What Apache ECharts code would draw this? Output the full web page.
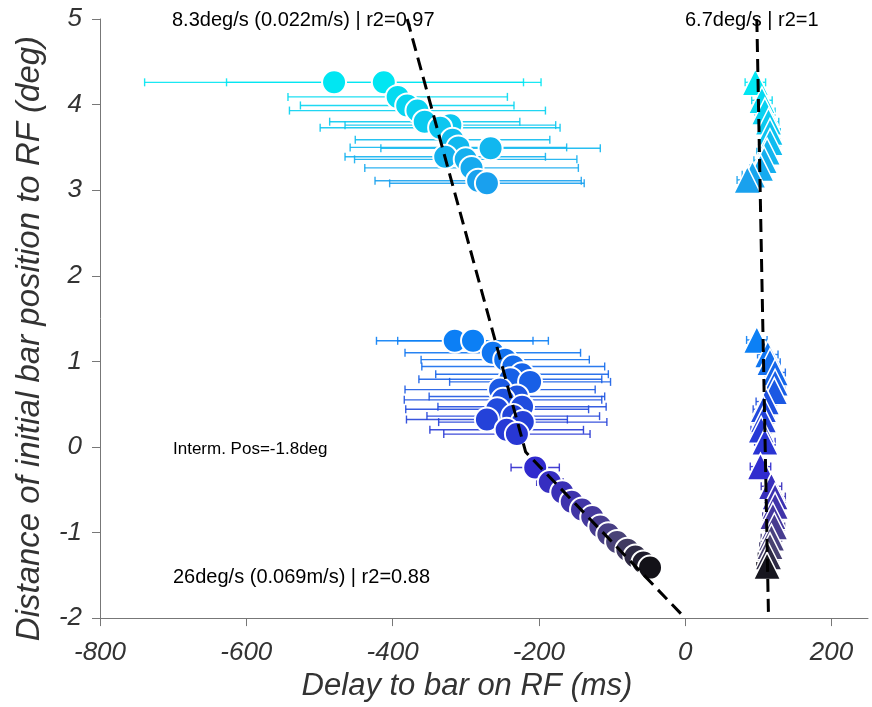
<!DOCTYPE html>
<html>
<head>
<meta charset="utf-8">
<script src="https://cdn.jsdelivr.net/npm/echarts@6/dist/echarts.min.js"></script>
<style>
  html, body { margin: 0; padding: 0; background: #fff; }
  #chart { width: 872px; height: 707px; }
</style>
</head>
<body>
<div id="chart"></div>
<script>
// circles: delay (ms), initial bar position (deg), error half-width (ms)
const circleDelay = [
  -480, -412, -393, -380, -366, -356, -321, -335, -318, -310, -266, -328, -300, -292, -283, -271,
  -315, -290, -263, -246, -235, -223, -239, -212, -253, -230, -249, -223, -257, -235, -271, -222, -244, -230,
  -205, -185, -168, -155, -141, -127, -116, -105, -93, -79, -68, -57, -48
];
const circlePos = [
  4.26, 4.26, 4.09, 3.99, 3.93, 3.80, 3.76, 3.73, 3.59, 3.50, 3.49, 3.39, 3.36, 3.26, 3.11, 3.08,
  1.24, 1.24, 1.10, 1.02, 0.94, 0.85, 0.79, 0.76, 0.67, 0.59, 0.55, 0.47, 0.44, 0.36, 0.32, 0.29, 0.20, 0.15,
  -0.24, -0.41, -0.53, -0.64, -0.73, -0.82, -0.93, -1.02, -1.11, -1.20, -1.28, -1.35, -1.41
];
const circleErr = [
  259, 215, 150, 146, 175, 130, 144, 164, 133, 148, 150, 137, 152, 146, 141, 133,
  107, 103, 120, 115, 125, 118, 125, 110, 130, 120, 135, 115, 125, 118, 110, 115, 105, 100,
  33, 18, 15, 14, 12, 12, 11, 12, 10, 10, 10, 9, 9
];

// triangles
const triDelay = [
  96, 105, 109, 114, 116, 116, 112, 108, 103, 92, 85,
  98, 113, 116, 123, 123, 122, 111, 107, 107, 104, 109,
  103, 118, 123, 123, 120, 122, 118, 116, 114, 112
];
const triPos = [
  4.26, 4.05, 3.92, 3.80, 3.68, 3.56, 3.45, 3.35, 3.26, 3.18, 3.12,
  1.25, 1.08, 0.99, 0.87, 0.75, 0.65, 0.53, 0.44, 0.32, 0.20, 0.06,
  -0.23, -0.46, -0.58, -0.69, -0.81, -0.93, -1.06, -1.16, -1.28, -1.39
];
const triErr = [
  14, 14, 14, 14, 14, 14, 14, 14, 14, 14, 14,
  14, 14, 14, 14, 14, 14, 14, 14, 14, 14, 14,
  14, 14, 14, 14, 14, 14, 14, 14, 14, 14
];

// fitted lines
const fitCircleX = [-380, -218, 0];
const fitCircleY = [5, -0.06, -2];
const fitTriX = [98, 114];
const fitTriY = [5, -2];

const xTicks = [-800, -600, -400, -200, 0, 200];

const FONT = "'Liberation Sans', Arial, sans-serif";

// colour by bar position: cyan (far) -> blue -> violet -> black (near)
const colorStops = [
  [4.3, [0, 232, 242]],
  [3.1, [25, 160, 238]],
  [1.25, [12, 128, 245]],
  [0.15, [40, 55, 212]],
  [-0.25, [48, 42, 206]],
  [-0.8, [68, 55, 160]],
  [-1.15, [75, 68, 115]],
  [-1.45, [10, 10, 10]]
];
function colorAt(y) {
  if (y >= colorStops[0][0]) return 'rgb(' + colorStops[0][1].join(',') + ')';
  for (let i = 1; i < colorStops.length; i++) {
    const [y1, c1] = colorStops[i];
    const [y0, c0] = colorStops[i - 1];
    if (y >= y1) {
      const t = (y0 - y) / (y0 - y1);
      const c = c0.map((v, k) => Math.round(v + (c1[k] - v) * t));
      return 'rgb(' + c.join(',') + ')';
    }
  }
  return 'rgb(' + colorStops[colorStops.length - 1][1].join(',') + ')';
}

function zip(a, b, c) {
  return a.map((v, i) => c ? [v, b[i], c[i]] : [v, b[i]]);
}

function renderErr(params, api) {
  const x = api.value(0), y = api.value(1), e = api.value(2);
  const l = api.coord([x - e, y]);
  const r = api.coord([x + e, y]);
  const style = { stroke: colorAt(y), lineWidth: 1.4, opacity: 0.9 };
  return {
    type: 'group',
    children: [
      { type: 'line', shape: { x1: l[0], y1: l[1], x2: r[0], y2: r[1] }, style: style },
      { type: 'line', shape: { x1: l[0], y1: l[1] - 4, x2: l[0], y2: l[1] + 4 }, style: style },
      { type: 'line', shape: { x1: r[0], y1: r[1] - 4, x2: r[0], y2: r[1] + 4 }, style: style }
    ]
  };
}

const chart = echarts.init(document.getElementById('chart'));

chart.setOption({
  animation: false,
  backgroundColor: '#fff',
  grid: { left: 100, right: 4, top: 19, bottom: 88 },
  xAxis: {
    type: 'value',
    min: -800,
    max: 250,
    interval: 200,
    name: 'Delay to bar on RF (ms)',
    nameLocation: 'middle',
    nameGap: 52,
    nameTextStyle: {
      fontFamily: FONT, fontStyle: 'italic', fontSize: 31, color: '#333',
      padding: [0, 34, 0, 0]
    },
    axisLine: { onZero: false, lineStyle: { color: '#777', width: 1 } },
    axisTick: { customValues: xTicks, length: 8, lineStyle: { color: '#777' } },
    axisLabel: {
      customValues: xTicks,
      fontFamily: FONT, fontStyle: 'italic', fontSize: 26, color: '#333', margin: 22
    },
    splitLine: { show: false }
  },
  yAxis: {
    type: 'value',
    min: -2,
    max: 5,
    interval: 1,
    name: 'Distance of initial bar position to RF (deg)',
    nameLocation: 'middle',
    nameGap: 54,
    nameTextStyle: {
      fontFamily: FONT, fontStyle: 'italic', fontSize: 33, color: '#333',
      padding: [0, 40, 0, 0]
    },
    axisLine: { show: true, onZero: false, lineStyle: { color: '#777', width: 1 } },
    axisTick: { show: true, length: 8, lineStyle: { color: '#777' } },
    axisLabel: { fontFamily: FONT, fontStyle: 'italic', fontSize: 26, color: '#333', margin: 18 },
    splitLine: { show: false }
  },
  graphic: [
    { type: 'text', left: 172, top: 10, style: { text: '8.3deg/s (0.022m/s) | r2=0.97', fontFamily: FONT, fontSize: 20, fill: '#000' } },
    { type: 'text', left: 685, top: 10, style: { text: '6.7deg/s | r2=1', fontFamily: FONT, fontSize: 20, fill: '#000' } },
    { type: 'text', left: 173, top: 441, style: { text: 'Interm. Pos=-1.8deg', fontFamily: FONT, fontSize: 17, fill: '#000' } },
    { type: 'text', left: 173, top: 567, style: { text: '26deg/s (0.069m/s) | r2=0.88', fontFamily: FONT, fontSize: 20, fill: '#000' } }
  ],
  series: [
    {
      type: 'custom',
      renderItem: renderErr,
      data: zip(circleDelay, circlePos, circleErr),
      z: 2,
      silent: true
    },
    {
      type: 'custom',
      renderItem: renderErr,
      data: zip(triDelay, triPos, triErr),
      z: 2,
      silent: true
    },
    {
      type: 'scatter',
      symbol: 'circle',
      symbolSize: 24,
      data: zip(circleDelay, circlePos),
      itemStyle: {
        color: p => colorAt(p.value[1]),
        borderColor: '#fff',
        borderWidth: 2,
        opacity: 1
      },
      z: 3
    },
    {
      type: 'scatter',
      symbol: 'triangle',
      symbolSize: 27,
      data: zip(triDelay, triPos),
      itemStyle: {
        color: p => colorAt(p.value[1]),
        borderColor: '#fff',
        borderWidth: 1.5,
        opacity: 1
      },
      z: 3
    },
    {
      type: 'line',
      data: zip(fitCircleX, fitCircleY),
      symbol: 'none',
      lineStyle: { color: '#000', width: 3, type: [13, 7] },
      z: 5
    },
    {
      type: 'line',
      data: zip(fitTriX, fitTriY),
      symbol: 'none',
      lineStyle: { color: '#000', width: 3, type: [13, 7] },
      z: 5
    }
  ]
});

window.addEventListener('resize', () => chart.resize());
</script>
</body>
</html>
